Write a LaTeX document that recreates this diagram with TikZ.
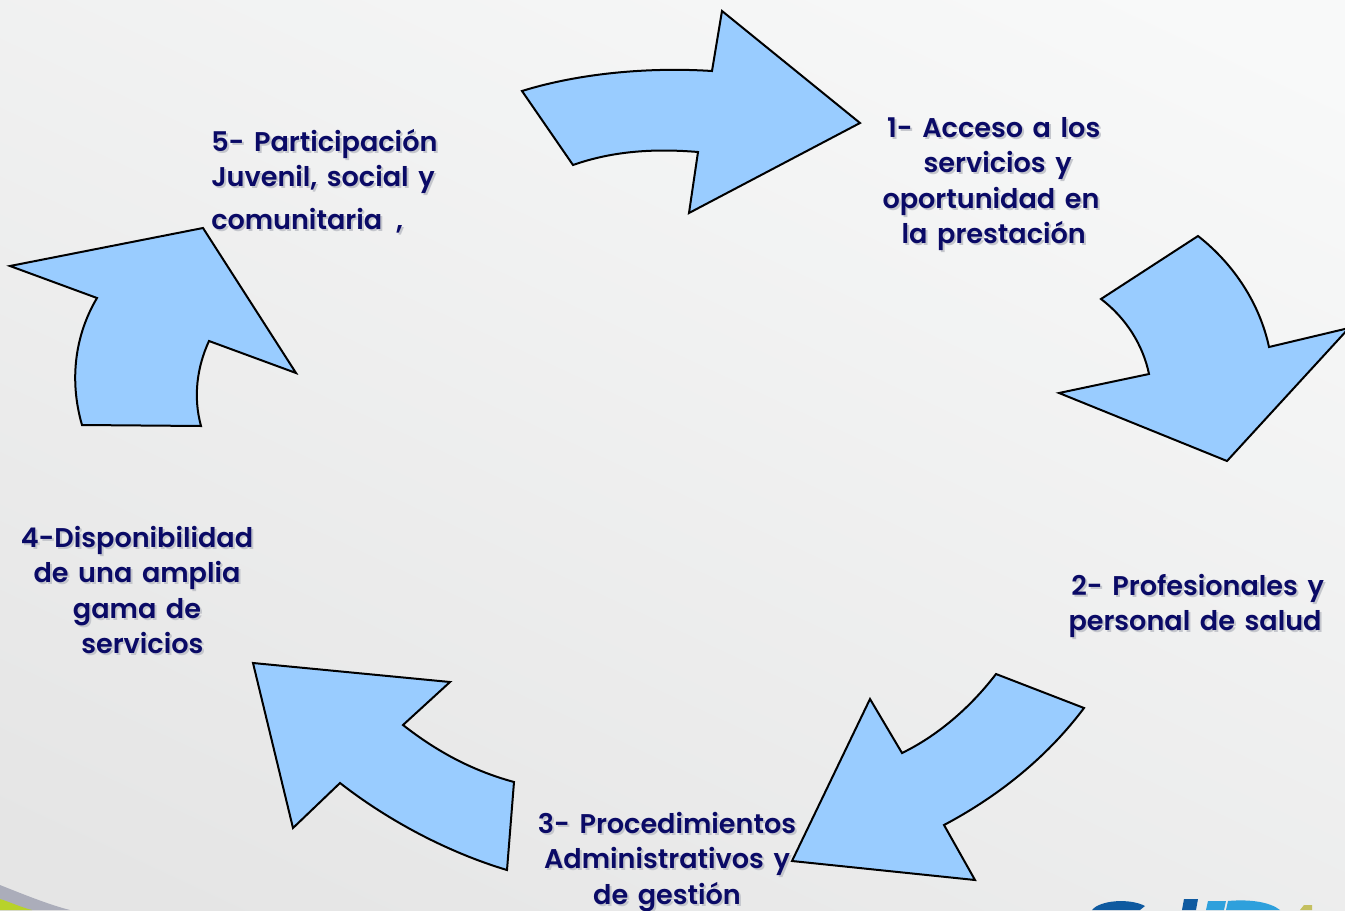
\documentclass[tikz,border=0pt]{standalone}
\usepackage{fontspec}
\setmainfont{Poppins}[BoldFont={Poppins SemiBold},WordSpace=1.5]
\usetikzlibrary{calc}
\definecolor{arrowblue}{HTML}{99CCFF}
\definecolor{navytext}{HTML}{0A0A66}
\definecolor{shadowgrey}{HTML}{C4C6CC}
\definecolor{bgA}{HTML}{F8F9F9}
\definecolor{bgB}{HTML}{E5E5E5}
\definecolor{swooshgrey}{HTML}{ABADBA}
\definecolor{swooshgreen}{HTML}{B8D22A}
\definecolor{logodark}{HTML}{0F5AA0}
\definecolor{logolight}{HTML}{2EA0DC}
\definecolor{logoyellow}{HTML}{C4C060}
\tikzset{
  cyclearrow/.style={draw=black,line width=1.5pt,fill=arrowblue,line join=miter},
  lbl/.style={font=\bfseries\fontsize{20.3}{26.6}\selectfont,text=navytext,inner sep=0pt,align=center},
  lblshadow/.style={font=\bfseries\fontsize{20.3}{26.6}\selectfont,text=shadowgrey,inner sep=0pt,align=center}
}
\newcommand{\blocktext}[5][center]{%
  \node[lblshadow,anchor=#1,align=#3] at ($(#2)+(2,2)$) {#5};
  \node[lbl,anchor=#1,align=#3] (#4) at (#2) {#5};}
\begin{document}
\begin{tikzpicture}[x=0.75pt,y=-0.75pt]
\useasboundingbox (0,0) rectangle (1345,910);
\begin{scope}
\clip (0,0) rectangle (1345,910);
\shade[top color=bgA,bottom color=bgB,shading angle=-25] (-100,-100) rectangle (1445,1010);
% bottom-left swoosh
\fill[swooshgrey] (0,885) .. controls (25,895) and (50,905) .. (70,910) -- (0,910) -- cycle;
\fill[swooshgreen] (0,899) .. controls (10,902) and (20,907) .. (32,910) -- (0,910) -- cycle;
% cut-off logo at lower right
\fill[logodark] (1092,910) .. controls (1100,900) and (1130,898) .. (1145,906) -- (1140,910) -- cycle;
\fill[logodark] (1182,910) -- (1184,899) -- (1198,899) -- (1196,910) -- cycle;
\fill[logolight] (1206,910) -- (1208,901) -- (1226,901) -- (1224,910) -- cycle;
\fill[logolight] (1228,901) .. controls (1250,899) and (1270,902) .. (1280,910) -- (1226,910) -- cycle;
\fill[logoyellow] (1300,910) -- (1304,905) -- (1312,905) -- (1312,910) -- cycle;
% arrows
\draw[cyclearrow] (522,91) .. controls (580,73) and (650,67) .. (712,71) -- (722,11) -- (860,123) -- (689,213) -- (698,152) .. controls (650,148) and (610,152) .. (573,165) -- cycle;
\draw[cyclearrow] (1198,236) .. controls (1235,265) and (1260,305) .. (1269,347) -- (1349,328) -- (1227,461) -- (1059,393) -- (1149,374) .. controls (1143,345) and (1126,318) .. (1101,299) -- cycle;
\draw[cyclearrow] (1084,708) .. controls (1045,760) and (995,798) .. (944,825) -- (975,880) -- (792,861) -- (870,699) -- (902,753) .. controls (937,736) and (970,708) .. (996,674) -- cycle;
\draw[cyclearrow] (514,782) .. controls (470,770) and (435,750) .. (403,725) -- (450,682) -- (253,663) -- (293,828) -- (340,783) .. controls (390,822) and (450,853) .. (507,870) -- cycle;
\draw[cyclearrow] (201,426) .. controls (193,397) and (197,367) .. (209,341) -- (296,373) -- (203,228) -- (10,266) -- (97,298) .. controls (75,335) and (69,380) .. (82,425) -- cycle;
\end{scope}
% labels
\blocktext{991,184}{center}{lblone}{\hspace*{4pt}1- Acceso a los\\\hspace*{10pt}servicios y\\oportunidad en\\\hspace*{4pt}la prestación}
\blocktext{1195,606}{center}{lbltwo}{\hspace*{4pt}2- Profesionales y\\personal de salud}
\blocktext{667,862}{center}{lblthree}{3- Procedimientos\\Administrativos y\\de gestión}
\blocktext{137,590}{center}{lblfour}{4-Disponibilidad\\de una amplia\\gama de\\\hspace*{8pt}servicios}
\blocktext[west]{211,181}{left}{lblfive}{5- Participación\\Juvenil, social y\\[5pt]comunitaria\hspace{10.5pt},}
\end{tikzpicture}
\end{document}
